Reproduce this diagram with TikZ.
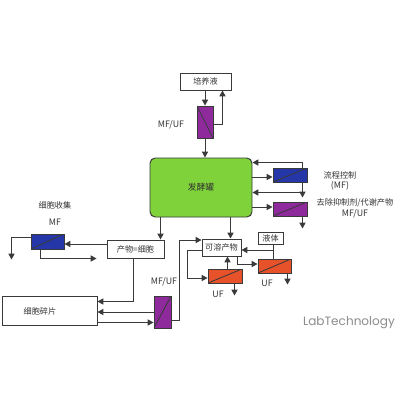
\documentclass[tikz,border=0pt]{standalone}
\usepackage{fontspec}
\setmainfont{Noto Sans CJK SC}
\newfontfamily\logofont{Poppins}
\usetikzlibrary{arrows.meta,calc}
\definecolor{lncol}{HTML}{3A3A3A}
\definecolor{txtcol}{HTML}{333333}
\definecolor{fermgreen}{HTML}{7FD23A}
\definecolor{fblue}{HTML}{2536A8}
\definecolor{fpurp}{HTML}{8E2A9C}
\definecolor{forng}{HTML}{E8522A}
\def\upx{0.25mm}
\begin{document}
\begin{tikzpicture}[x=0.25mm,y=-0.25mm,line width=0.7pt,color=lncol,
  sz/.style 2 args={minimum width=#1*\upx,minimum height=#2*\upx},
  box/.style={draw=lncol,fill=white,inner sep=0pt,text=txtcol,font=\fontsize{5.8}{6.5}\selectfont},
  fermbox/.style={draw=lncol,fill=fermgreen,rounded corners=1.3mm,inner sep=0pt,text=txtcol,font=\fontsize{6.2}{7}\selectfont},
  flt/.style={draw=lncol,fill=#1,inner sep=0pt},
  fsw/.style={path picture={\draw[lncol,line width=0.6pt] (path picture bounding box.south west) -- (path picture bounding box.north east);}},
  fnw/.style={path picture={\draw[lncol,line width=0.6pt] (path picture bounding box.north west) -- (path picture bounding box.south east);}},
  cjk/.style={text=txtcol,inner sep=0pt,font=\fontsize{5.8}{6.5}\selectfont},
  lat/.style={text=txtcol,inner sep=0pt,font=\fontsize{6.3}{7}\selectfont},
  arr/.style={-{Triangle[length=4.2pt,width=4.4pt]}}]
\useasboundingbox[fill=white] (0,0) rectangle (400,400);

% nodes
\node[box,sz={51}{17}] (culture) at (205.5,81.5) {培养液};
\node[flt=fpurp,fnw,sz={16}{32}] (f1) at (205,122) {};
\node[fermbox,sz={102}{59}] (ferm) at (201,187.5) {发酵罐};
\node[flt=fblue,fsw,sz={34}{14}] (bf) at (290,175) {};
\node[flt=fpurp,fsw,sz={34}{14}] (pf) at (290,209) {};
\node[box,sz={57}{18}] (pc) at (135.5,249) {产物=细胞};
\node[flt=fblue,fsw,sz={33}{15}] (mf) at (47.5,241.5) {};
\node[box,sz={39}{17}] (sol) at (221.5,247.5) {可溶产物};
\node[box,sz={25}{12}] (liq) at (270.5,238) {液体};
\node[flt=forng,fsw,sz={34}{14}] (uf1) at (225,276) {};
\node[flt=forng,fsw,sz={33}{14}] (uf2) at (274.5,266) {};
\node[box,sz={95}{29}] (deb) at (49.5,310.5) {};
\node[cjk] (debt) at (40,311) {细胞碎片};
\node[flt=fpurp,fsw,sz={17}{32}] (pv) at (162.5,312) {};

% labels
\node[lat] (l1) at (171,125) {MF/UF};
\node[cjk] (l2) at (340,175) {流程控制};
\node[lat] (l3) at (340,186) {(MF)};
\node[cjk] (l4) at (355,203) {去除抑制剂/代谢产物};
\node[lat] (l5) at (355,214) {MF/UF};
\node[cjk] (l6) at (55,205) {细胞收集};
\node[lat] (l7) at (55,222) {MF};
\node[lat] (l8) at (164,282) {MF/UF};
\node[lat] (l9) at (218,294) {UF};
\node[lat] (l10) at (267,283) {UF};
\node[text=black!45,inner sep=0pt,font=\logofont\fontsize{8.6}{10}\selectfont] (logo) at (349,323) {LabTechnology};

% connectors: top
\draw[arr] (f1.north |- culture.south) -- (f1.north);
\draw[arr] ($(f1.east)+(0,2)$) -| ($(culture.south east)+(-9,0)$);
\draw[arr] (f1.south) -- (f1.south |- ferm.north);

% right side filters
\draw[arr] (ferm.east |- bf.west) ++(0,2) -- ($(bf.west)+(0,2)$);
\draw[arr] ($(bf.north east)+(-5,0)$) |- ($(ferm.north east)+(0,5)$);
\draw[arr] ($(bf.south east)+(-5,0)$) -- ++(0,15);
\coordinate (j) at ($(bf.south east)+(-5,10)$);
\draw[arr] (j) -- (j -| ferm.east);
\draw[arr] (ferm.east |- pf.west) ++(0,-2) -- ($(pf.west)+(0,-2)$);
\draw[arr] ($(pf.south east)+(-5,0)$) -- ++(0,12);

% fermenter outputs
\coordinate (k1) at ($(ferm.south west)+(11,0)$);
\draw[arr] (k1) -- (k1 |- pc.north);
\coordinate (k2) at ($(ferm.south west)+(81,0)$);
\draw[arr] (k2) -- (k2 |- sol.north);

% cell harvest
\draw[arr] ($(pc.west)+(0,-5)$) -- ($(mf.east)+(0,2.5)$);
\draw[arr] ($(mf.north west)+(0,4)$) -- ++(-19,0) -- ++(0,22);
\draw[arr] ($(mf.south west)+(10,0)$) |- ++(56,9);

% cell debris
\draw[arr] ($(pc.south west)+(27,0)$) |- ($(deb.north east)+(0,6)$);
\draw[arr] (pv.west) -- (pv.west -| deb.east);
\coordinate (d1) at ($(deb.south east)+(0,-3)$);
\draw[arr] (d1) -- (d1 -| pv.west);
\draw[arr] ($(pv.east)+(0,8)$) -- ++(8,0) |- ($(sol.north west)+(0,1.5)$);

% soluble products
\draw[arr] ($(sol.west)+(0,2.5)$) -- ++(-14,0) |- ($(uf1.west)+(0,2)$);
\coordinate (u1) at ($(uf1.north west)+(20,0)$);
\draw[arr] (u1) -- (u1 |- sol.south);
\draw[arr] ($(sol.south east)+(-4,0)$) |- ($(uf2.west)+(0,-2)$);
\coordinate (q1) at ($(liq.south)+(2.5,0)$);
\draw (q1) -- (q1 |- uf2.north);
\coordinate (q2) at ($(liq.south)+(2.5,5.5)$);
\draw[arr] (q2) -- (q2 -| sol.east);
\draw[arr] ($(uf1.south east)+(-8,0)$) -- ++(0,12);
\draw[arr] ($(uf2.south east)+(-4,0)$) -- ++(0,11);
\end{tikzpicture}
\end{document}
